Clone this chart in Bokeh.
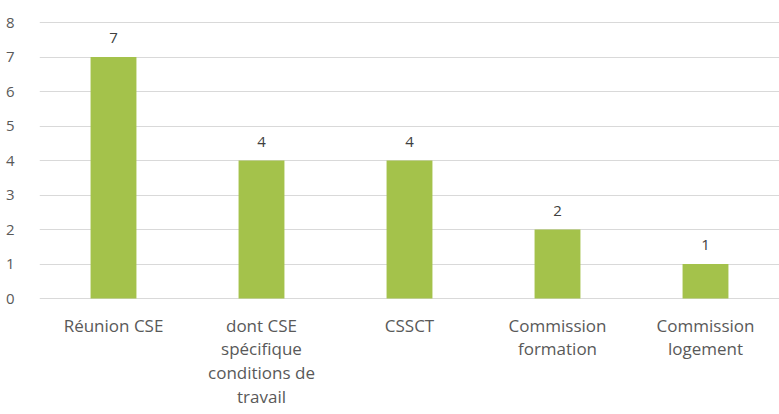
from bokeh.plotting import figure
from bokeh.models import ColumnDataSource, FactorRange, Range1d, FixedTicker
from bokeh.core.properties import value
from bokeh.embed import file_html
from bokeh.resources import INLINE

categories = ["Réunion CSE", "dont CSE spécifique conditions de travail", "CSSCT",
              "Commission formation", "Commission logement"]
tick_labels = ["Réunion CSE", "dont CSE\nspécifique\nconditions de\ntravail", "CSSCT",
               "Commission\nformation", "Commission\nlogement"]
counts = [7, 4, 4, 2, 1]
y_ticks = [0, 1, 2, 3, 4, 5, 6, 7, 8]

FONT = "Open Sans"
PX_PER_UNIT = 34.5      # vertical scale of the value axis
TOP_PAD = 4             # px above the "8" gridline inside the frame
FRAME_H = 390           # frame extends below 0 to host the category labels
y_end = y_ticks[-1] + TOP_PAD / PX_PER_UNIT
y_start = y_end - FRAME_H / PX_PER_UNIT

src = ColumnDataSource(dict(cat=categories, val=counts, lbl=[str(v) for v in counts],
                            tick=tick_labels, ty=[0] * len(categories)))

p = figure(width=779, height=18 + FRAME_H, x_range=FactorRange(*categories, range_padding=0),
           y_range=Range1d(y_start, y_end), output_backend="svg", toolbar_location=None,
           min_border_left=39, min_border_right=0, min_border_top=18, min_border_bottom=0)
p.outline_line_color = None
p.background_fill_color = "white"
p.border_fill_color = "white"

p.vbar(x="cat", top="val", width=0.31, source=src, fill_color="#A4C24B", line_color=None)
p.text(x="cat", y="val", text="lbl", source=src, y_offset=-14, text_align="center",
       text_baseline="bottom", text_font=value(FONT), text_font_size="15px", text_color="#404040")
p.text(x="cat", y="ty", text="tick", source=src, y_offset=15, text_align="center",
       text_baseline="top", text_font=value(FONT), text_font_size="17px",
       text_color="#595959", text_line_height=1.03)

p.xaxis.visible = False
p.xgrid.grid_line_color = None
p.ygrid.grid_line_color = "#D9D9D9"
p.ygrid.grid_line_width = 1
p.yaxis.ticker = FixedTicker(ticks=y_ticks)
ax = p.yaxis[0]
ax.axis_line_color = None
ax.major_tick_line_color = None
ax.minor_tick_line_color = None
ax.major_label_text_font = FONT
ax.major_label_text_font_size = "15px"
ax.major_label_text_color = "#595959"
ax.major_label_standoff = 19

open("out.html", "w").write(file_html(p, INLINE))
